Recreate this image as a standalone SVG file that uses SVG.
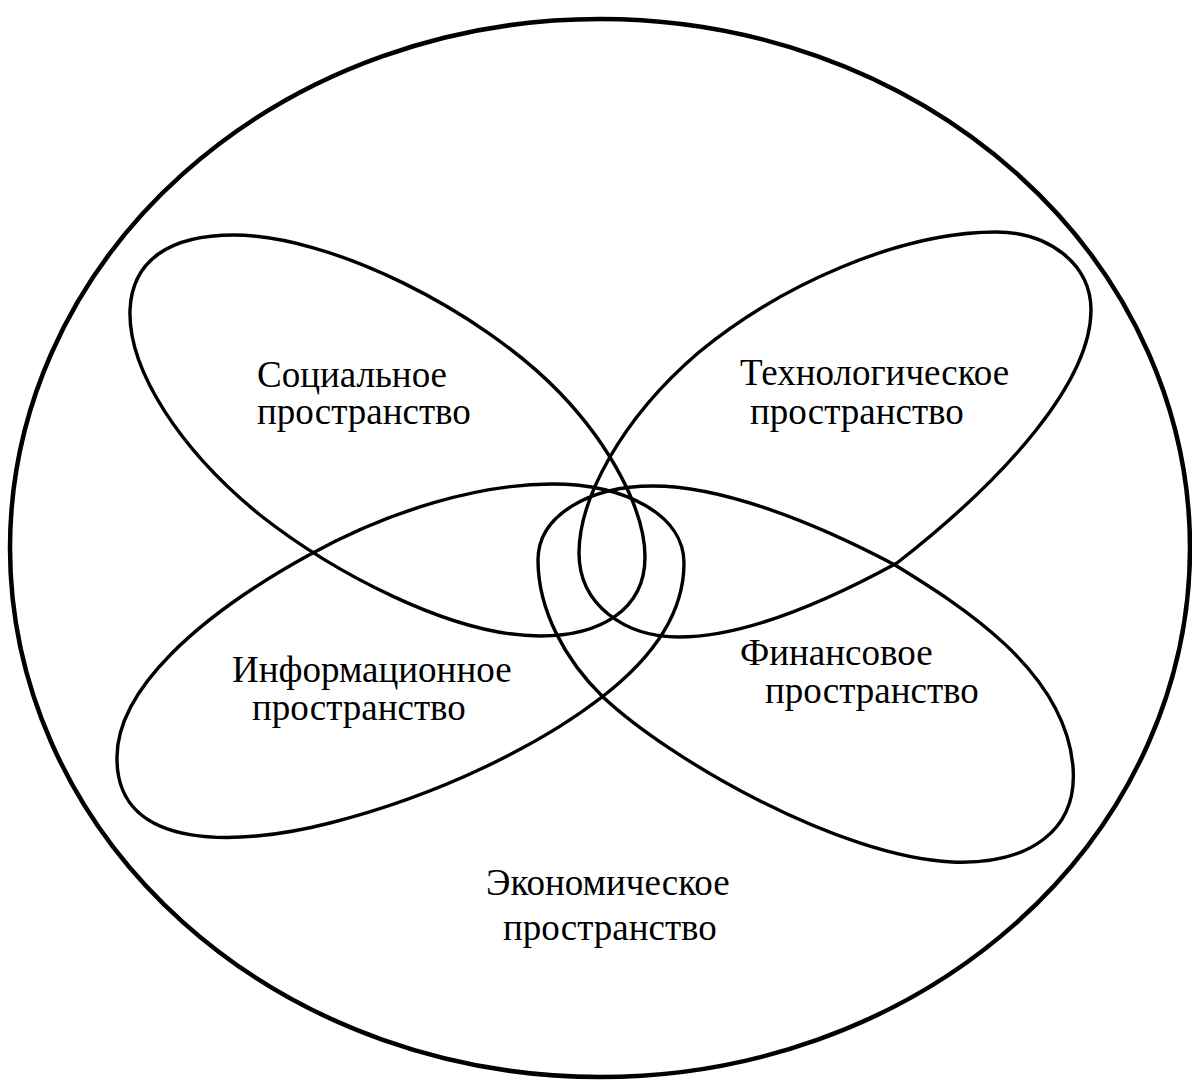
<svg xmlns="http://www.w3.org/2000/svg" width="1192" height="1081" viewBox="0 0 1192 1081">
  <style>
    .outline { fill: none; stroke: #000; stroke-linejoin: round; }
    .outer { stroke-width: 4.5; }
    .lobe { stroke-width: 3.4; }
    .label { font-family: "Liberation Serif", "Times New Roman", serif; font-size: 37px; fill: #000; }
  </style>
  <rect width="1192" height="1081" fill="#fff"/>

  <!-- Economic space: the enclosing ellipse -->
  <g id="economic">
    <ellipse class="outline outer" cx="600" cy="548" rx="590" ry="529"/>
    <text class="label" x="486" y="895">Экономическое</text>
    <text class="label" x="503" y="940">пространство</text>
  </g>

  <!-- Four overlapping lobes meeting near the centre -->
  <g id="social">
    <path class="outline lobe" d="M 234 235 C 330 235 480 310 560 393 C 610 445 645 510 645 557 C 645 610 600 636 540 636 C 450 636 330 570 260 515 C 180 450 128 370 130 310 C 132 260 170 235 234 235 Z"/>
    <text class="label" x="257" y="387">Социальное</text>
    <text class="label" x="257" y="424">пространство</text>
  </g>

  <g id="technological">
    <path class="outline lobe" d="M 996 232 C 1050 232 1091 265 1091 310 C 1091 380 1010 475 897 563 C 820 605 740 637 679 637 C 625 637 579 605 579 553 C 579 500 620 420 698 353 C 780 285 900 232 996 232 Z"/>
    <text class="label" x="740" y="385">Технологическое</text>
    <text class="label" x="750" y="424">пространство</text>
  </g>

  <g id="informational">
    <path class="outline lobe" d="M 552 484 C 625 484 684 515 684 563 C 684 615 650 660 602 697 C 540 745 440 795 330 823 C 240 846 118 852 117 760 C 115 690 200 615 309 555 C 390 510 480 484 552 484 Z"/>
    <text class="label" x="232" y="682">Информационное</text>
    <text class="label" x="252" y="720">пространство</text>
  </g>

  <g id="financial">
    <path class="outline lobe" d="M 653 486 C 720 486 810 520 895 565 C 960 605 1065 670 1073 767 C 1078 830 1030 865 952 862 C 840 857 670 760 603 697 C 565 660 538 610 538 560 C 538 515 590 486 653 486 Z"/>
    <text class="label" x="740" y="665">Финансовое</text>
    <text class="label" x="765" y="703">пространство</text>
  </g>

  <!-- no connectors in this figure -->
  <g id="connectors"/>
</svg>
